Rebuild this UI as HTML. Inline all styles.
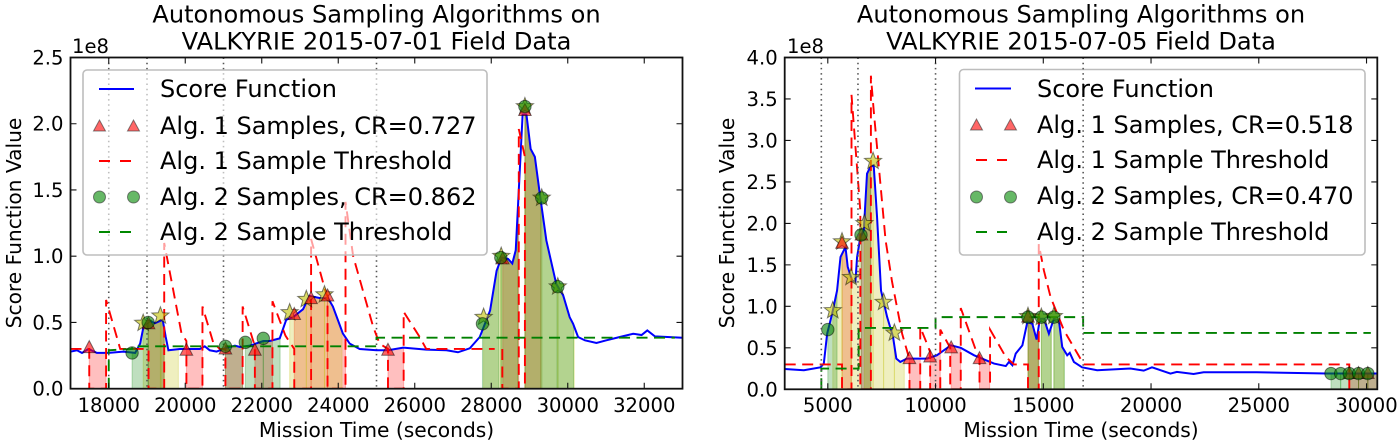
<!DOCTYPE html>
<html lang="en">
<head>
<meta charset="utf-8">
<title>Autonomous Sampling Algorithms on VALKYRIE Field Data</title>
<style>
html,body{margin:0;padding:0;background:#fff;width:1400px;height:445px;overflow:hidden}
svg{display:block}
text{font-family:"DejaVu Sans","Liberation Sans",sans-serif;fill:#000}
.title{font-size:24.1px;text-anchor:middle}
.axlab{font-size:20.2px;text-anchor:middle}
.tick{font-size:19.6px}
.leg{font-size:24px}
</style>
</head>
<body>
<svg id="fig" width="1400" height="445" viewBox="0 0 1400 445" xmlns="http://www.w3.org/2000/svg">
  <defs>
    <clipPath id="clipA"><rect x="70.5" y="57.5" width="612" height="331.2"/></clipPath>
    <clipPath id="clipB"><rect x="784.7" y="57.5" width="592.6" height="331.8"/></clipPath>
  </defs>

  <g id="chartA">
    <g id="belowA"></g>
    <rect x="83" y="70" width="404" height="185" rx="4" fill="#fff" fill-opacity="0.62" stroke="#bdbdbd" stroke-width="1.6"/>
    <g id="aboveA"></g>
    <g>
      <line x1="99" x2="134" y1="89" y2="89" stroke="#00f" stroke-width="2"/>
      <text class="leg" x="160" y="97">Score Function</text>
      <polygon points="99.5,120 93.5,131 105.5,131" fill="#f00" fill-opacity="0.6" stroke="#333" stroke-opacity="0.6"/>
      <polygon points="133.5,120 127.5,131 139.5,131" fill="#f00" fill-opacity="0.6" stroke="#333" stroke-opacity="0.6"/>
      <text class="leg" x="160" y="134">Alg. 1 Samples, CR=0.727</text>
      <line x1="99" x2="131" y1="161" y2="161" stroke="#f00" stroke-width="2" stroke-dasharray="11 10"/>
      <text class="leg" x="160" y="169">Alg. 1 Sample Threshold</text>
      <circle cx="99.5" cy="197" r="6" fill="#080" fill-opacity="0.6" stroke="#333" stroke-opacity="0.6"/>
      <circle cx="133.5" cy="197" r="6" fill="#080" fill-opacity="0.6" stroke="#333" stroke-opacity="0.6"/>
      <text class="leg" x="160" y="205">Alg. 2 Samples, CR=0.862</text>
      <line x1="99" x2="131" y1="232" y2="232" stroke="#080" stroke-width="2" stroke-dasharray="11 10"/>
      <text class="leg" x="160" y="240">Alg. 2 Sample Threshold</text>
    </g>
    <text class="title" x="376.5" y="22.5">Autonomous Sampling Algorithms on</text>
    <text class="title" x="376.5" y="49.5">VALKYRIE 2015-07-01 Field Data</text>
    <text class="tick" x="72" y="53">1e8</text>
    <text class="axlab" x="376.5" y="437">Mission Time (seconds)</text>
    <text class="axlab" transform="translate(21,223) rotate(-90)">Score Function Value</text>
  </g>

  <g id="chartB">
    <g id="belowB"></g>
    <rect x="959.5" y="69.5" width="405.5" height="185.5" rx="4" fill="#fff" fill-opacity="0.62" stroke="#bdbdbd" stroke-width="1.6"/>
    <g id="aboveB"></g>
    <g>
      <line x1="975" x2="1011" y1="88.5" y2="88.5" stroke="#00f" stroke-width="2"/>
      <text class="leg" x="1037" y="97">Score Function</text>
      <polygon points="976.5,119 970.5,130 982.5,130" fill="#f00" fill-opacity="0.6" stroke="#333" stroke-opacity="0.6"/>
      <polygon points="1010.5,119 1004.5,130 1016.5,130" fill="#f00" fill-opacity="0.6" stroke="#333" stroke-opacity="0.6"/>
      <text class="leg" x="1037" y="133">Alg. 1 Samples, CR=0.518</text>
      <line x1="976" x2="1007" y1="160" y2="160" stroke="#f00" stroke-width="2" stroke-dasharray="11 10"/>
      <text class="leg" x="1037" y="168">Alg. 1 Sample Threshold</text>
      <circle cx="976.5" cy="197" r="6" fill="#080" fill-opacity="0.6" stroke="#333" stroke-opacity="0.6"/>
      <circle cx="1010.5" cy="197" r="6" fill="#080" fill-opacity="0.6" stroke="#333" stroke-opacity="0.6"/>
      <text class="leg" x="1037" y="204">Alg. 2 Samples, CR=0.470</text>
      <line x1="976" x2="1007" y1="232" y2="232" stroke="#080" stroke-width="2" stroke-dasharray="11 10"/>
      <text class="leg" x="1037" y="240">Alg. 2 Sample Threshold</text>
    </g>
    <text class="title" x="1081" y="22.5">Autonomous Sampling Algorithms on</text>
    <text class="title" x="1081" y="49.5">VALKYRIE 2015-07-05 Field Data</text>
    <text class="tick" x="787" y="53">1e8</text>
    <text class="axlab" x="1081" y="437">Mission Time (seconds)</text>
    <text class="axlab" transform="translate(734,223) rotate(-90)">Score Function Value</text>
  </g>
</svg>

<script>
/* ---------- left chart data (values in units of 1e8) ---------- */
const aXTicks = [18000,20000,22000,24000,26000,28000,30000,32000];
const aYTicks = [0,0.5,1,1.5,2,2.5];
const aYTickLabels = ['0.0','0.5','1.0','1.5','2.0','2.5'];
const aDotted = [18000,19000,21000,25000];
const aScoreT = [17000,17170,17300,17470,17690,18000,18380,18690,18820,18910,19040,19210,19410,19490,19560,19860,20030,20380,20510,20640,20820,21040,21170,21300,21430,21690,22040,22210,22470,22640,22820,23080,23250,23510,23730,23860,24040,24120,24300,24560,25000,25300,25700,26300,26830,27130,27440,27700,27970,28140,28270,28440,28550,28640,28750,28820,28920,29030,29140,29270,29440,29700,29880,30050,30140,30270,30450,30750,31010,31360,31710,31930,32080,32280,33000];
const aScoreV = [0.28,0.29,0.27,0.30,0.27,0.27,0.28,0.27,0.34,0.47,0.515,0.495,0.52,0.39,0.29,0.30,0.30,0.30,0.32,0.29,0.28,0.305,0.315,0.325,0.315,0.325,0.36,0.36,0.38,0.52,0.54,0.60,0.70,0.685,0.685,0.62,0.48,0.417,0.34,0.30,0.29,0.29,0.31,0.295,0.29,0.275,0.305,0.39,0.59,0.89,0.99,0.98,0.945,1.045,1.67,2.07,2.07,1.81,1.75,1.47,1.12,0.79,0.705,0.54,0.49,0.39,0.365,0.345,0.365,0.39,0.415,0.405,0.44,0.395,0.385];
const aAlg1T = [17490,19040,20030,21050,21820,22850,23290,23720,25300,28300,28880];
const aAlg1V = [0.31,0.49,0.29,0.30,0.29,0.56,0.68,0.70,0.29,0.98,2.10];
const aAlg1End = [17930,19450,20450,21500,22280,23290,23720,24190,25710,28720,29300];
const aAlg2T = [18610,19030,21050,21570,22040,27770,28250,28880,29320,29740];
const aAlg2V = [0.27,0.50,0.32,0.35,0.38,0.49,0.99,2.13,1.44,0.77];
const aAlg2End = [19030,19450,21500,22040,22480,28200,28700,29300,29720,30150];
const aStarT = [18900,19350,22730,23165,23640,27800,28260,28880,29320,29740];
const aStarV = [0.495,0.55,0.575,0.675,0.71,0.54,1.00,2.13,1.44,0.77];
const aStarEnd = [19370,19820,23165,23640,24100,28250,28700,29300,29740,30170];
const aThr1T = [17000,17490,17490,17930,17930,18300,19040,19040,19450,19450,19900,20030,20030,20450,20450,20730,20900,21050,21050,21500,21500,21820,21820,22280,22280,22620,22850,22850,23290,23290,23680,23720,23720,24190,24190,24390,24910,25080,25300,25300,25710,25710,26130,26300,28090];
const aThr1V = [0.30,0.30,0,0,0.67,0.30,0.30,0,0,1.10,0.42,0.36,0,0,0.62,0.35,0.30,0.30,0,0,0.62,0.32,0,0,0.66,0.40,0.30,0,0,1.13,0.72,0.70,0,0,1.41,1.00,0.47,0.34,0.30,0,0,0.58,0.39,0.30,0.30];
const aThr1bT = [28290,28290,28720,28720,28880,28880];
const aThr1bV = [0.30,0,0,1.96,1.75,0];
const aThr2T = [18000,18000,18610,18610,25000,25000,32800];
const aThr2V = [0,0.29,0.30,0.32,0.32,0.385,0.385];

/* ---------- right chart data (values in units of 1e8) ---------- */
const bXTicks = [5000,10000,15000,20000,25000,30000];
const bYTicks = [0,0.5,1,1.5,2,2.5,3,3.5,4];
const bYTickLabels = ['0.0','0.5','1.0','1.5','2.0','2.5','3.0','3.5','4.0'];
const bDotted = [4700,6400,10000,16850];
const bScoreT = [3000,3890,4660,4815,4970,5200,5430,5590,5820,5925,6125,6280,6360,6510,6670,6820,6975,7130,7285,7470,7750,8025,8180,8365,8670,9135,9600,10060,10710,11170,11790,12250,12715,13260,13410,13565,13720,14030,14260,14490,14690,14845,15030,15260,15490,15725,15880,16110,16230,16420,16800,17500,19040,19660,20045,20900,21200,21975,22440,24900,26140,28150,30500];
const bScoreV = [0.245,0.23,0.265,0.31,0.67,0.91,1.19,1.595,1.715,1.475,1.315,1.295,1.595,1.835,1.915,2.60,2.68,2.70,2.08,1.19,0.875,0.635,0.37,0.33,0.37,0.37,0.37,0.41,0.53,0.50,0.41,0.36,0.31,0.28,0.33,0.29,0.43,0.53,0.81,0.79,0.60,0.85,0.85,0.67,0.85,0.83,0.51,0.41,0.44,0.33,0.265,0.23,0.25,0.225,0.265,0.19,0.21,0.185,0.205,0.205,0.20,0.19,0.19];
const bAlg1T = [5660,6560,8790,9750,10725,12040,14290,29200,29630,30060];
const bAlg1V = [1.76,1.86,0.37,0.39,0.50,0.37,0.87,0.19,0.19,0.19];
const bAlg1End = [6100,7000,9290,10220,11170,12510,14790,29630,30060,30500];
const bAlg2T = [5000,6540,14290,14910,15490,28350,28800,29200,29630,30060];
const bAlg2V = [0.72,1.86,0.87,0.87,0.87,0.19,0.19,0.19,0.19,0.19];
const bAlg2End = [5430,7000,14790,15370,15980,28800,29200,29630,30060,30500];
const bStarT = [5230,5660,6080,6700,7100,7590,8090,14290,14910,15490];
const bStarV = [0.95,1.78,1.35,2.00,2.75,1.05,0.68,0.88,0.87,0.88];
const bStarEnd = [5660,6080,6500,7100,7590,8090,8550,14750,15370,15960];
const bThr1T = [3000,5350,5660,5660,6100,6100,6510,6510,7000,7000,7130,7680,7980,8450,8790,8790,9290,9290,9600,9750,9750,10220,10220,10680,10680,11170,11170,11900,12040,12040,12530,12530,13260,13640,14290,14290,14790,14790,15030,15340,15960,16880,29150,29200,29200];
const bThr1V = [0.30,0.30,0.30,0,0,3.55,2.15,0,0,3.78,3.36,1.80,1.30,0.67,0.36,0,0,0.75,0.55,0.45,0,0,0.72,0.50,0,0,0.98,0.45,0.40,0,0,0.72,0.39,0.30,0.30,0,0,1.75,1.43,1.11,0.71,0.30,0.30,0.30,0];
const bThr2T = [4700,4700,6300,6430,6430,10000,10000,16850,16850,30200];
const bThr2V = [0,0.25,0.25,0.25,0.74,0.74,0.87,0.87,0.68,0.68];

/* ---------- drawing ---------- */
const NS = 'http://www.w3.org/2000/svg';
function mk(parent, tag, attrs) {
  const el = document.createElementNS(NS, tag);
  for (const k in attrs) el.setAttribute(k, attrs[k]);
  parent.appendChild(el);
  return el;
}
function linearScale(d0, d1, r0, r1) {
  return function (v) { return r0 + (v - d0) * (r1 - r0) / (d1 - d0); };
}
function curveAt(ts, vs, t) {
  if (t <= ts[0]) return vs[0];
  for (let i = 1; i < ts.length; i++) {
    if (t <= ts[i]) return vs[i-1] + (vs[i] - vs[i-1]) * (t - ts[i-1]) / (ts[i] - ts[i-1]);
  }
  return vs[vs.length - 1];
}
function pathOf(ts, vs, x, y) {
  return ts.map(function (t, i) { return (i ? 'L' : 'M') + x(t).toFixed(2) + ' ' + y(vs[i]).toFixed(2); }).join('');
}
function starPoints(cx, cy, R) {
  const pts = [];
  for (let i = 0; i < 10; i++) {
    const r = i % 2 ? R * 0.42 : R;
    const a = -Math.PI / 2 + i * Math.PI / 5;
    pts.push((cx + r * Math.cos(a)).toFixed(2) + ',' + (cy + r * Math.sin(a)).toFixed(2));
  }
  return pts.join(' ');
}

function drawChart(c) {
  const below = document.getElementById(c.below);
  const above = document.getElementById(c.above);
  const x = linearScale(c.xMin, c.xMax, c.L, c.R);
  const y = linearScale(c.yMin, c.yMax, c.B, c.T);
  const plot = mk(below, 'g', {'clip-path': 'url(#' + c.clip + ')'});
  
  

  function drawFills(starts, ends, color) {
    starts.forEach(function (s, i) {
      const e = ends[i];
      const ts = [s].concat(c.scoreT.filter(function (t) { return t > s && t < e; }), [e]);
      const pts = [x(s).toFixed(2) + ',' + y(0).toFixed(2)];
      ts.forEach(function (t) { pts.push(x(t).toFixed(2) + ',' + y(curveAt(c.scoreT, c.scoreV, t)).toFixed(2)); });
      pts.push(x(e).toFixed(2) + ',' + y(0).toFixed(2));
      const p = mk(plot, 'polygon', {points: pts.join(' '), fill: color, 'fill-opacity': 0.25, stroke: color, 'stroke-opacity': 0.25, 'stroke-width': 1});
      
      
    });
  }
  drawFills(c.alg1T, c.alg1End, '#ff0000');
  drawFills(c.starT, c.starEnd, '#bfbf00');
  drawFills(c.alg2T, c.alg2End, '#008000');

  const dotParent = c.dottedAbove ? above : plot;
  c.dotted.forEach(function (t) {
    const l = mk(dotParent, 'line', {x1: x(t), x2: x(t), y1: c.T, y2: c.B, stroke: '#555', 'stroke-width': 1.6, 'stroke-dasharray': '1.5 3.7'});
    
    
  });

  const score = mk(plot, 'path', {d: pathOf(c.scoreT, c.scoreV, x, y), fill: 'none', stroke: '#0000ff', 'stroke-width': 2});
  
  

  c.thr1.forEach(function (seg) {
    const p = mk(plot, 'path', {d: pathOf(seg[0], seg[1], x, y), fill: 'none', stroke: '#ff0000', 'stroke-width': 1.9, 'stroke-dasharray': '11 6.5'});
    
    
  });
  const thr2 = mk(plot, 'path', {d: pathOf(c.thr2T, c.thr2V, x, y), fill: 'none', stroke: '#008000', 'stroke-width': 1.9, 'stroke-dasharray': '11 6.5'});
  
  

  c.starT.forEach(function (t, i) {
    const s = mk(plot, 'polygon', {points: starPoints(x(t), y(c.starV[i]), 9), fill: '#bfbf00', 'fill-opacity': 0.6, stroke: '#000', 'stroke-opacity': 0.5, 'stroke-width': 1});
    
    
  });
  c.alg1T.forEach(function (t, i) {
    const px = x(t), py = y(c.alg1V[i]);
    const pts = px + ',' + (py - 7) + ' ' + (px - 6.3) + ',' + (py + 5) + ' ' + (px + 6.3) + ',' + (py + 5);
    const m = mk(plot, 'polygon', {points: pts, fill: '#ff0000', 'fill-opacity': 0.6, stroke: '#000', 'stroke-opacity': 0.5, 'stroke-width': 1});
    
    
  });
  c.alg2T.forEach(function (t, i) {
    const m = mk(plot, 'circle', {cx: x(t), cy: y(c.alg2V[i]), r: 6.2, fill: '#008000', 'fill-opacity': 0.6, stroke: '#000', 'stroke-opacity': 0.5, 'stroke-width': 1});
    
    
  });

  const frame = mk(above, 'rect', {x: c.L, y: c.T, width: c.R - c.L, height: c.B - c.T, fill: 'none', stroke: '#111', 'stroke-width': 1.8});
  
  

  c.xTicks.forEach(function (t) {
    const px = x(t);
    const a = mk(above, 'path', {d: 'M' + px + ' ' + c.B + 'v-6M' + px + ' ' + c.T + 'v6', stroke: '#111', 'stroke-width': 1.1, fill: 'none'});
    
    
    const lab = mk(above, 'text', {x: px, y: 412, 'text-anchor': 'middle', 'class': 'tick'});
    
    
    lab.textContent = String(t);
  });
  c.yTicks.forEach(function (v, i) {
    const py = y(v);
    const a = mk(above, 'path', {d: 'M' + c.L + ' ' + py + 'h6M' + c.R + ' ' + py + 'h-6', stroke: '#111', 'stroke-width': 1.1, fill: 'none'});
    
    
    const lab = mk(above, 'text', {x: c.L - 7, y: py + 7, 'text-anchor': 'end', 'class': 'tick'});
    
    
    lab.textContent = c.yLabels[i];
  });
}

drawChart({
  below: 'belowA', above: 'aboveA', clip: 'clipA', dottedAbove: false,
  L: 70.5, R: 682.5, T: 57.5, B: 388.7, xMin: 17000, xMax: 33000, yMin: 0, yMax: 2.5,
  xTicks: aXTicks, yTicks: aYTicks, yLabels: aYTickLabels, dotted: aDotted,
  scoreT: aScoreT, scoreV: aScoreV,
  alg1T: aAlg1T, alg1V: aAlg1V, alg1End: aAlg1End,
  alg2T: aAlg2T, alg2V: aAlg2V, alg2End: aAlg2End,
  starT: aStarT, starV: aStarV, starEnd: aStarEnd,
  thr1: [[aThr1T, aThr1V], [aThr1bT, aThr1bV]],
  thr2T: aThr2T, thr2V: aThr2V
});
drawChart({
  below: 'belowB', above: 'aboveB', clip: 'clipB', dottedAbove: true,
  L: 784.7, R: 1377.3, T: 57.5, B: 389.3, xMin: 3000, xMax: 30500, yMin: 0, yMax: 4,
  xTicks: bXTicks, yTicks: bYTicks, yLabels: bYTickLabels, dotted: bDotted,
  scoreT: bScoreT, scoreV: bScoreV,
  alg1T: bAlg1T, alg1V: bAlg1V, alg1End: bAlg1End,
  alg2T: bAlg2T, alg2V: bAlg2V, alg2End: bAlg2End,
  starT: bStarT, starV: bStarV, starEnd: bStarEnd,
  thr1: [[bThr1T, bThr1V]],
  thr2T: bThr2T, thr2V: bThr2V
});
</script>
</body>
</html>
